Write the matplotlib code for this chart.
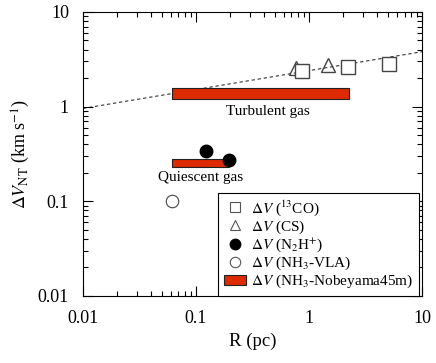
import matplotlib
matplotlib.use('Agg')
import matplotlib.pyplot as plt
from matplotlib.patches import Patch
from matplotlib.lines import Line2D
import numpy as np

plt.rcParams['font.family'] = ['Liberation Serif', 'DejaVu Serif']
plt.rcParams['mathtext.fontset'] = 'stix'

# data
co_r = [0.87, 2.2, 5.1]
co_dv = [2.4, 2.65, 2.85]
cs_r = [0.77, 1.47]
cs_dv = [2.55, 2.75]
n2h_r = [0.122, 0.196]
n2h_dv = [0.34, 0.27]
vla_r = [0.062]
vla_dv = [0.10]
# Nobeyama 45m ranges: (r_min, r_max, dv_min, dv_max)
nob_turb = (0.062, 2.26, 1.2, 1.57)
nob_quie = (0.061, 0.197, 0.232, 0.28)
# dashed power law dv = a * r**b
fit_a, fit_b = 2.4, 0.2

fig = plt.figure(figsize=(4.36, 3.63), dpi=100)
ax = fig.add_axes([0.19, 0.185, 0.778, 0.782])
ax.set_xscale('log')
ax.set_yscale('log')
ax.set_xlim(0.01, 10)
ax.set_ylim(0.01, 10)

red = '#dd2a00'
for r0, r1, d0, d1 in [nob_turb, nob_quie]:
    ax.fill_between([r0, r1], d0, d1, facecolor=red, edgecolor='#222222', lw=0.8, zorder=2)

rr = np.logspace(-2, 1, 50)
ax.plot(rr, fit_a * rr ** fit_b, ls=(0, (3, 2.5)), color='#333333', lw=0.8, zorder=1)

ax.plot(co_r, co_dv, 's', ms=10, mfc='white', mec='#444444', mew=1.0, zorder=4)
ax.plot(cs_r, cs_dv, '^', ms=10, mfc='none', mec='#444444', mew=1.0, zorder=3)
ax.plot(n2h_r, n2h_dv, 'o', ms=9, color='black', zorder=4)
ax.plot(vla_r, vla_dv, 'o', ms=9, mfc='white', mec='#444444', mew=0.8, zorder=4)

ax.text(0.43, 1.04, 'Turbulent gas', ha='center', va='top', fontsize=11)
ax.text(0.11, 0.21, 'Quiescent gas', ha='center', va='top', fontsize=11)

ax.set_xticks([0.01, 0.1, 1, 10])
ax.set_xticklabels(['0.01', '0.1', '1', '10'])
ax.set_yticks([0.01, 0.1, 1, 10])
ax.set_yticklabels(['0.01', '0.1', '1', '10'])
ax.tick_params(which='both', direction='in', top=True, right=True, labelsize=13)
ax.tick_params(axis='x', which='major', length=7, width=0.8, pad=10)
ax.tick_params(axis='y', which='major', length=7, width=0.8, pad=10)
ax.tick_params(which='minor', length=3.5, width=0.8)
for s in ax.spines.values():
    s.set_linewidth(0.8)

ax.set_xlabel('R (pc)', fontsize=13.5, labelpad=4)
ax.set_ylabel(r'$\mathit{\Delta V}_{\rm NT}$ (km s$^{-1}$)', fontsize=13, labelpad=4)

dv = r'$\mathit{\Delta V}$'
handles = [
    Line2D([], [], ls='none', marker='s', ms=7.5, mfc='white', mec='#555555', mew=0.8),
    Line2D([], [], ls='none', marker='^', ms=7.5, mfc='none', mec='#555555', mew=0.8),
    Line2D([], [], ls='none', marker='o', ms=7.5, color='black'),
    Line2D([], [], ls='none', marker='o', ms=7.5, mfc='white', mec='#555555', mew=0.8),
    Patch(facecolor=red, edgecolor='#222222', lw=0.8),
]
labels = [dv + r' ($^{13}$CO)', dv + ' (CS)', dv + r' (N$_2$H$^{+}$)',
          dv + r' (NH$_3$-VLA)', dv + r' (NH$_3$-Nobeyama45m)']
leg = ax.legend(handles, labels, loc='lower right', bbox_to_anchor=(0.99, 0.0),
                borderaxespad=0.0, fontsize=11, frameon=True,
                fancybox=False, edgecolor='black', framealpha=1,
                handlelength=1.5, handletextpad=0.3, labelspacing=0.05,
                borderpad=0.35)
leg.get_frame().set_linewidth(0.8)

fig.savefig('out.png', dpi=100)
